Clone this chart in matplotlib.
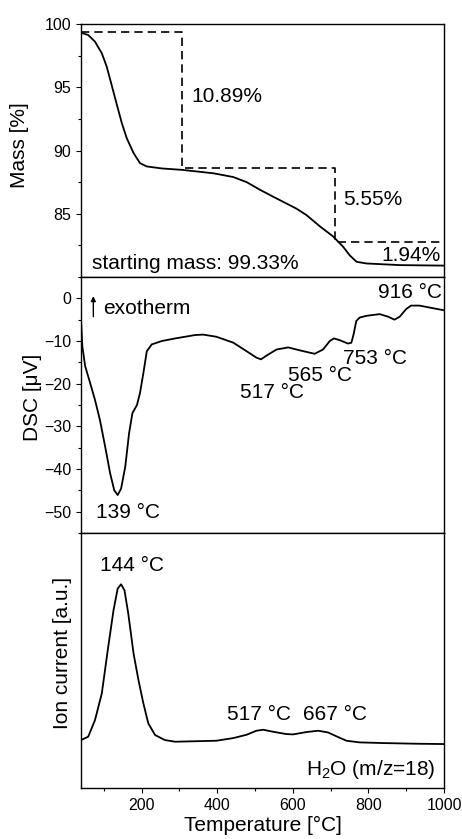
import matplotlib
matplotlib.use("Agg")
import matplotlib.pyplot as plt
from matplotlib.ticker import MultipleLocator, NullLocator

plt.rcParams["font.family"] = ["Liberation Sans", "DejaVu Sans"]
plt.rcParams["mathtext.fontset"] = "custom"
plt.rcParams["mathtext.rm"] = "Liberation Sans"
plt.rcParams["mathtext.it"] = "Liberation Sans:italic"

# TG (mass loss)
tg_temp = [40, 59, 77, 95, 108, 121, 135, 148, 161, 179, 196, 214, 254, 307, 390,
           443, 478, 513, 548, 584, 610, 636, 672, 707, 733, 751, 769, 795, 883, 1000]
tg_mass = [99.31, 99.13, 98.6, 97.69, 96.63, 95.18, 93.6, 92.16, 90.97, 89.8, 89.0,
           88.74, 88.58, 88.47, 88.2, 87.9, 87.5, 86.9, 86.35, 85.8, 85.4, 84.9, 84.0,
           83.2, 82.4, 81.7, 81.2, 81.07, 80.94, 80.9]
step_temp = [40, 306, 306, 713, 713, 1000]
step_mass = [99.4, 99.4, 88.6, 88.6, 82.8, 82.8]

# DSC
dsc_temp = [40, 43.5, 51, 64, 77, 90, 104, 117, 128, 137, 146, 157, 167, 176, 188,
            196, 205, 214, 227, 254, 289, 342, 363, 398, 443, 478, 504, 516, 531,
            557, 588, 619, 658, 680, 698, 709, 724, 746, 755, 761, 768, 777, 795, 830,
            852, 869, 883, 900, 913, 935, 970, 1000]
dsc_val = [-4.9, -11.2, -15.9, -19.8, -23.8, -28.5, -34.8, -41.0, -45.0, -46.1, -44.6,
           -39.5, -31.7, -26.9, -25.0, -22.2, -17.5, -12.4, -10.8, -10.0, -9.4, -8.6,
           -8.5, -9.0, -10.4, -12.4, -13.9, -14.3, -13.4, -12.0, -11.5,
           -12.2, -13.0, -12.0, -10.0, -9.4, -9.8, -10.6, -10.4, -8.4, -5.3, -4.5, -4.1,
           -3.7, -4.3, -5.0, -4.3, -2.5, -1.7, -1.7, -2.3, -2.8]

# MS, H2O (m/z=18), arbitrary units
ms_temp = [40, 59, 77, 95, 112, 126, 137, 146, 155, 165, 179, 192, 205, 218, 236,
           262, 289, 398, 443, 478, 504, 522, 548, 583, 601, 636, 667, 693,
           716, 742, 777, 839, 927, 1000]
ms_val = [144, 154, 204, 284, 424, 534, 599, 612, 594, 524, 404, 324, 254, 194, 159,
          144, 139, 142, 150, 160, 172, 175, 169, 162, 161, 168, 172,
          167, 155, 142, 137, 135, 133, 132]

fig = plt.figure(figsize=(4.62, 8.39), dpi=100)
W, H = 462, 839
left, right = 81 / W, 444 / W
edges = [24, 277, 533, 788]
axes = []
for i in range(3):
    top = 1 - edges[i] / H
    bot = 1 - edges[i + 1] / H
    axes.append(fig.add_axes([left, bot, right - left, top - bot]))
ax1, ax2, ax3 = axes

for ax in axes:
    ax.set_xlim(40, 1000)
    for s in ax.spines.values():
        s.set_linewidth(1.0)
    ax.tick_params(which="both", direction="out", labelsize=11.5, right=False, top=False)
    ax.tick_params(which="major", length=3.5, width=0.8)
    ax.tick_params(which="minor", length=2, width=0.8)

for ax in (ax1, ax2):
    ax.tick_params(axis="x", which="both", bottom=False, labelbottom=False)

# top: mass
ax1.plot(tg_temp, tg_mass, color="black", lw=1.3)
ax1.plot(step_temp, step_mass, color="black", lw=1.2, ls=(0, (5, 3)))
ax1.set_ylim(80, 100)
ax1.yaxis.set_major_locator(MultipleLocator(5))
ax1.yaxis.set_minor_locator(MultipleLocator(2.5))
ax1.set_yticks([85, 90, 95, 100])
ax1.set_ylabel("Mass [%]", fontsize=15)
ax1.yaxis.set_label_coords(-0.143, 0.52)
ax1.text(332, 94.25, "10.89%", fontsize=15, va="center")
ax1.text(733, 86.1, "5.55%", fontsize=15, va="center")
ax1.text(991, 81.7, "1.94%", fontsize=15, va="center", ha="right")
ax1.text(68, 81.07, "starting mass: 99.33%", fontsize=15, va="center")

# middle: DSC
ax2.plot(dsc_temp, dsc_val, color="black", lw=1.3)
ax2.set_ylim(-55, 5)
ax2.yaxis.set_major_locator(MultipleLocator(10))
ax2.yaxis.set_minor_locator(MultipleLocator(5))
ax2.set_yticks([-50, -40, -30, -20, -10, 0])
ax2.set_ylabel("DSC [\u03bcV]", fontsize=15)
ax2.yaxis.set_label_coords(-0.108, 0.53)
ax2.annotate("", xy=(72.6, 0.5), xytext=(72.6, -4.3),
             arrowprops=dict(arrowstyle="-|>", color="black", lw=1.0,
                             mutation_scale=7, shrinkA=0, shrinkB=0))
ax2.text(99, -2.4, "exotherm", fontsize=15, va="center")
ax2.text(80, -50.3, "139 \u00b0C", fontsize=15, va="center")
ax2.text(460, -22.0, "517 \u00b0C", fontsize=15, va="center")
ax2.text(588, -18.1, "565 \u00b0C", fontsize=15, va="center")
ax2.text(733, -14.1, "753 \u00b0C", fontsize=15, va="center")
ax2.text(994, 1.4, "916 \u00b0C", fontsize=15, va="center", ha="right")

# bottom: ion current
ax3.plot(ms_temp, ms_val, color="black", lw=1.3)
ax3.set_ylim(0, 766)
ax3.yaxis.set_major_locator(NullLocator())
ax3.xaxis.set_major_locator(MultipleLocator(200))
ax3.xaxis.set_minor_locator(MultipleLocator(100))
ax3.set_xticks([200, 400, 600, 800, 1000])
ax3.set_xlim(40, 1000)
ax3.set_ylabel("Ion current [a.u.]", fontsize=15)
ax3.yaxis.set_label_coords(-0.026, 0.53)
ax3.set_xlabel("Temperature [\u00b0C]", fontsize=15, labelpad=2)
ax3.text(90, 667, "144 \u00b0C", fontsize=15, va="center")
ax3.text(425, 220, "517 \u00b0C", fontsize=15, va="center")
ax3.text(627, 220, "667 \u00b0C", fontsize=15, va="center")
ax3.text(978, 55, "H$_2$O (m/z=18)", fontsize=15, va="center", ha="right")

fig.savefig("out.png", dpi=100)
